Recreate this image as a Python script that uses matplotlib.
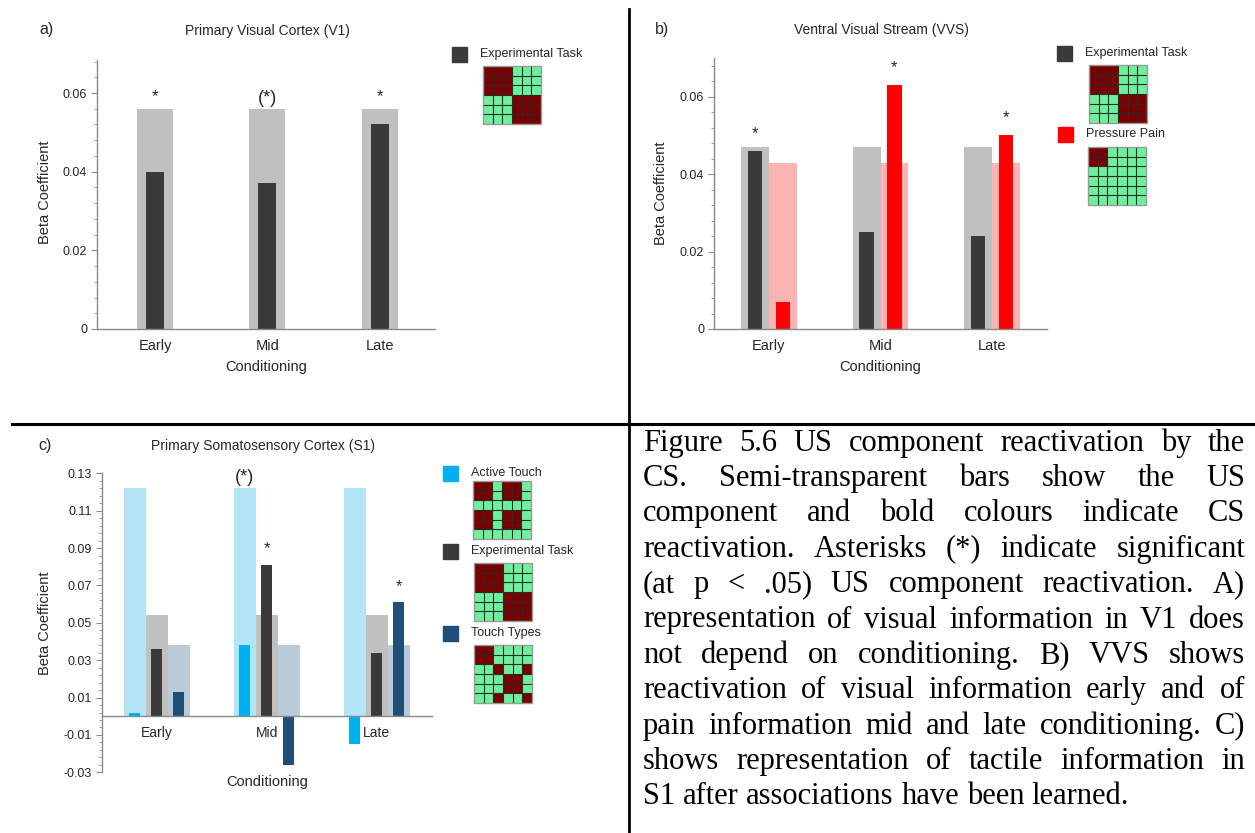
import numpy as np
import matplotlib
matplotlib.use("Agg")
import matplotlib.pyplot as plt
from matplotlib.colors import ListedColormap
from matplotlib.patches import Rectangle
from matplotlib.ticker import FixedLocator, FuncFormatter

plt.rcParams['font.family'] = ['Liberation Sans', 'DejaVu Sans']

# ---- data ----
phases = ['Early', 'Mid', 'Late']

# a) V1
v1_us = [0.056, 0.056, 0.056]
v1_task = [0.040, 0.037, 0.052]
v1_sig = ['*', '(*)', '*']

# b) VVS
vvs_us_task = [0.047, 0.047, 0.047]
vvs_us_pain = [0.043, 0.043, 0.043]
vvs_task = [0.046, 0.025, 0.024]
vvs_pain = [0.007, 0.063, 0.050]

# c) S1
s1_us_active = [0.122, 0.122, 0.122]
s1_us_task = [0.054, 0.054, 0.054]
s1_us_types = [0.038, 0.038, 0.038]
s1_active = [0.002, 0.038, -0.015]
s1_task = [0.036, 0.081, 0.034]
s1_types = [0.013, -0.026, 0.061]

# model matrices shown in the legends (1 = same, 0 = different)
m_task = [[1, 1, 1, 0, 0, 0],
          [1, 1, 1, 0, 0, 0],
          [1, 1, 1, 0, 0, 0],
          [0, 0, 0, 1, 1, 1],
          [0, 0, 0, 1, 1, 1],
          [0, 0, 0, 1, 1, 1]]
m_pain = [[1, 1, 0, 0, 0, 0],
          [1, 1, 0, 0, 0, 0],
          [0, 0, 0, 0, 0, 0],
          [0, 0, 0, 0, 0, 0],
          [0, 0, 0, 0, 0, 0],
          [0, 0, 0, 0, 0, 0]]
m_active = [[1, 1, 0, 1, 1, 0],
            [1, 1, 0, 1, 1, 0],
            [0, 0, 0, 0, 0, 0],
            [1, 1, 0, 1, 1, 0],
            [1, 1, 0, 1, 1, 0],
            [0, 0, 0, 0, 0, 0]]
m_types = [[1, 1, 0, 0, 0, 0],
           [1, 1, 0, 0, 0, 0],
           [0, 0, 1, 0, 0, 1],
           [0, 0, 0, 1, 1, 0],
           [0, 0, 0, 1, 1, 0],
           [0, 0, 1, 0, 0, 1]]

caption = [
    "Figure 5.6 US component reactivation by the",
    "CS. Semi-transparent bars show the US",
    "component and bold colours indicate CS",
    "reactivation. Asterisks (*) indicate significant",
    "(at p < .05) US component reactivation. A)",
    "representation of visual information in V1 does",
    "not depend on conditioning. B) VVS shows",
    "reactivation of visual information early and of",
    "pain information mid and late conditioning. C)",
    "shows representation of tactile information in",
    "S1 after associations have been learned.",
]

# ---- colours ----
GREY_L = '#c0c0c0'
DARK = '#3a3a3a'
PINK = '#fcb3b3'
RED = '#ff0000'
CYAN_L = '#b4e5f7'
CYAN = '#00b0f0'
STEEL_L = '#b9cad8'
NAVY = '#1f4e79'
SPINE = '#8a8a8a'
TXT = '#262626'

W, H = 1255, 833
fig = plt.figure(figsize=(W / 100, H / 100), dpi=100)


def px_axes(left, top, right, bottom):
    return fig.add_axes([left / W, 1 - bottom / H, (right - left) / W, (bottom - top) / H])


def style(ax, ylim, major, minor, fmt):
    ax.set_ylim(*ylim)
    for s in ['top', 'right']:
        ax.spines[s].set_visible(False)
    for s in ['left', 'bottom']:
        ax.spines[s].set_color(SPINE)
        ax.spines[s].set_linewidth(1.0)
    ax.yaxis.set_major_locator(FixedLocator(major))
    ax.yaxis.set_minor_locator(FixedLocator(minor))
    ax.yaxis.set_major_formatter(FuncFormatter(fmt))
    ax.tick_params(axis='y', which='major', length=4, color=SPINE, labelsize=9, labelcolor=TXT, pad=3)
    ax.tick_params(axis='y', which='minor', length=2.5, color=SPINE)
    ax.set_xticks(range(3))
    ax.set_xticklabels(phases)
    ax.tick_params(axis='x', length=0, labelsize=10.5, labelcolor=TXT, pad=7)
    ax.patch.set_visible(False)


def fmt0(v, pos):
    return '0' if abs(v) < 1e-9 else '%.2f' % v


def fmt2(v, pos):
    return ('%.2f' % v).replace('\u2212', '-')


x = np.arange(3)

# ---- a) V1 ----
axa = px_axes(97, 60, 435, 329)
axa.bar(x, v1_us, 0.32, color=GREY_L, zorder=1)
axa.bar(x, v1_task, 0.16, color=DARK, zorder=2)
for xi, s in zip(x, v1_sig):
    axa.text(xi, 0.0592 if s == '*' else 0.0585, s, ha='center', va='center',
             fontsize=13 if s.startswith('(') else 12, color=TXT)
axa.set_xlim(-0.516, 2.49)
style(axa, (0, 0.0684), [0, 0.02, 0.04, 0.06], np.arange(0, 0.0685, 0.004), fmt0)
axa.set_ylabel('Beta Coefficient', fontsize=10.5, color=TXT)
axa.yaxis.set_label_coords(-0.134, 0.51)
axa.set_xlabel('Conditioning', fontsize=10.5, color=TXT, va='center')
axa.xaxis.set_label_coords(0.5, -0.14)

# ---- b) VVS ----
axb = px_axes(714, 58, 1047, 329)
off = 0.125
axb.bar(x - off, vvs_us_task, 0.25, color=GREY_L, zorder=1)
axb.bar(x + off, vvs_us_pain, 0.25, color=PINK, zorder=1)
axb.bar(x - off, vvs_task, 0.13, color=DARK, zorder=2)
axb.bar(x + off, vvs_pain, 0.13, color=RED, zorder=2)
axb.text(x[0] - off, vvs_task[0] + 0.0045, '*', ha='center', va='center', fontsize=12, color=TXT)
axb.text(x[1] + off, vvs_pain[1] + 0.0045, '*', ha='center', va='center', fontsize=12, color=TXT)
axb.text(x[2] + off, vvs_pain[2] + 0.0045, '*', ha='center', va='center', fontsize=12, color=TXT)
axb.set_xlim(-0.493, 2.493)
style(axb, (0, 0.07), [0, 0.02, 0.04, 0.06], np.arange(0, 0.0705, 0.004), fmt0)
axb.set_ylabel('Beta Coefficient', fontsize=10.5, color=TXT)
axb.yaxis.set_label_coords(-0.139, 0.50)
axb.set_xlabel('Conditioning', fontsize=10.5, color=TXT, va='center')
axb.xaxis.set_label_coords(0.5, -0.139)

# ---- c) S1 ----
axc = px_axes(101.7, 473.3, 431.7, 772.3)
off = 0.2
axc.bar(x - off, s1_us_active, 0.2, color=CYAN_L, zorder=1)
axc.bar(x, s1_us_task, 0.2, color=GREY_L, zorder=1)
axc.bar(x + off, s1_us_types, 0.2, color=STEEL_L, zorder=1)
axc.bar(x - off, s1_active, 0.1, color=CYAN, zorder=2)
axc.bar(x, s1_task, 0.1, color=DARK, zorder=2)
axc.bar(x + off, s1_types, 0.1, color=NAVY, zorder=2)
axc.text(x[1] - off, 0.128, '(*)', ha='center', va='center', fontsize=13, color=TXT)
axc.text(x[1], s1_task[1] + 0.0085, '*', ha='center', va='center', fontsize=12, color=TXT)
axc.text(x[2] + off, s1_types[2] + 0.0085, '*', ha='center', va='center', fontsize=12, color=TXT)
axc.set_xlim(-0.5, 2.5)
style(axc, (-0.03, 0.13), np.arange(-0.03, 0.131, 0.02), np.arange(-0.03, 0.131, 0.004), fmt2)
axc.spines['bottom'].set_position(('data', 0))
axc.tick_params(axis='x', labelsize=10, pad=7)
axc.set_ylabel('Beta Coefficient', fontsize=10.5, color=TXT)
axc.yaxis.set_label_coords(-0.151, 0.50)
axc.set_xlabel('Conditioning', fontsize=10.5, color=TXT, va='center')
axc.xaxis.set_label_coords(0.5, -0.033)

# ---- overlay in pixel coordinates: titles, legends, frame lines, caption ----
ov = fig.add_axes([0, 0, 1, 1], zorder=5)
ov.set_xlim(0, W)
ov.set_ylim(H, 0)
ov.axis('off')

ov.plot([629, 629], [9, H], color='black', lw=2)
ov.plot([12, W], [424, 424], color='black', lw=2.2)

for lab, lx, ly in [('a)', 46, 29), ('b)', 662, 29), ('c)', 45, 445)]:
    ov.text(lx, ly, lab, fontsize=11.5, ha='center', va='center', color=TXT)
for t, tx, ty in [('Primary Visual Cortex (V1)', 267, 31),
                  ('Ventral Visual Stream (VVS)', 881, 30),
                  ('Primary Somatosensory Cortex (S1)', 263, 446)]:
    ov.text(tx, ty, t, fontsize=10, ha='center', va='center', color=TXT)

mat_cmap = ListedColormap(['#6cf09c', '#7a0000'])


def legend_item(sx, sy, color, label, mat, mx, my, size=58):
    ov.add_patch(Rectangle((sx, sy), 15, 15, color=color))
    ov.text(sx + 28, sy + 7, label, fontsize=9, va='center', color=TXT)
    ov.imshow(np.array(mat), cmap=mat_cmap, vmin=0, vmax=1, interpolation='nearest',
              extent=[mx, mx + size, my + size, my], aspect='auto', zorder=3)
    step = size / 6
    for k in range(1, 6):
        ov.plot([mx, mx + size], [my + k * step] * 2, color='#2a2a2a', lw=0.8, zorder=4)
        ov.plot([mx + k * step] * 2, [my, my + size], color='#2a2a2a', lw=0.8, zorder=4)
    ov.add_patch(Rectangle((mx, my), size, size, fill=False, ec='#9a9a9a', lw=1, zorder=5))


legend_item(452, 47, DARK, 'Experimental Task', m_task, 483, 66)
legend_item(1057, 46, DARK, 'Experimental Task', m_task, 1089, 65)
legend_item(1058, 127, RED, 'Pressure Pain', m_pain, 1088, 147)
legend_item(443, 466, CYAN, 'Active Touch', m_active, 473, 481)
legend_item(443, 544, DARK, 'Experimental Task', m_task, 474, 563)
legend_item(443, 626, NAVY, 'Touch Types', m_types, 474, 645)

ov.set_xlim(0, W)
ov.set_ylim(H, 0)

# justified caption
renderer = fig.canvas.get_renderer()
cap_l, cap_r = 643, 1245
cap_y0, cap_dy = 443, 35.4
cap_fs = 22
for i, line in enumerate(caption):
    words = line.split(' ')
    y = cap_y0 + i * cap_dy
    texts = [ov.text(0, y, w, fontsize=cap_fs, family=['Liberation Serif', 'DejaVu Serif'],
                     va='center', ha='left', color='black') for w in words]
    widths = [t.get_window_extent(renderer).width for t in texts]
    if i == len(caption) - 1:
        gap = 0.25 * cap_fs * 100 / 72
    else:
        gap = (cap_r - cap_l - sum(widths)) / (len(words) - 1)
    xx = cap_l
    for t, wd in zip(texts, widths):
        t.set_x(xx)
        xx += wd + gap

fig.savefig('out.png', dpi=100)
